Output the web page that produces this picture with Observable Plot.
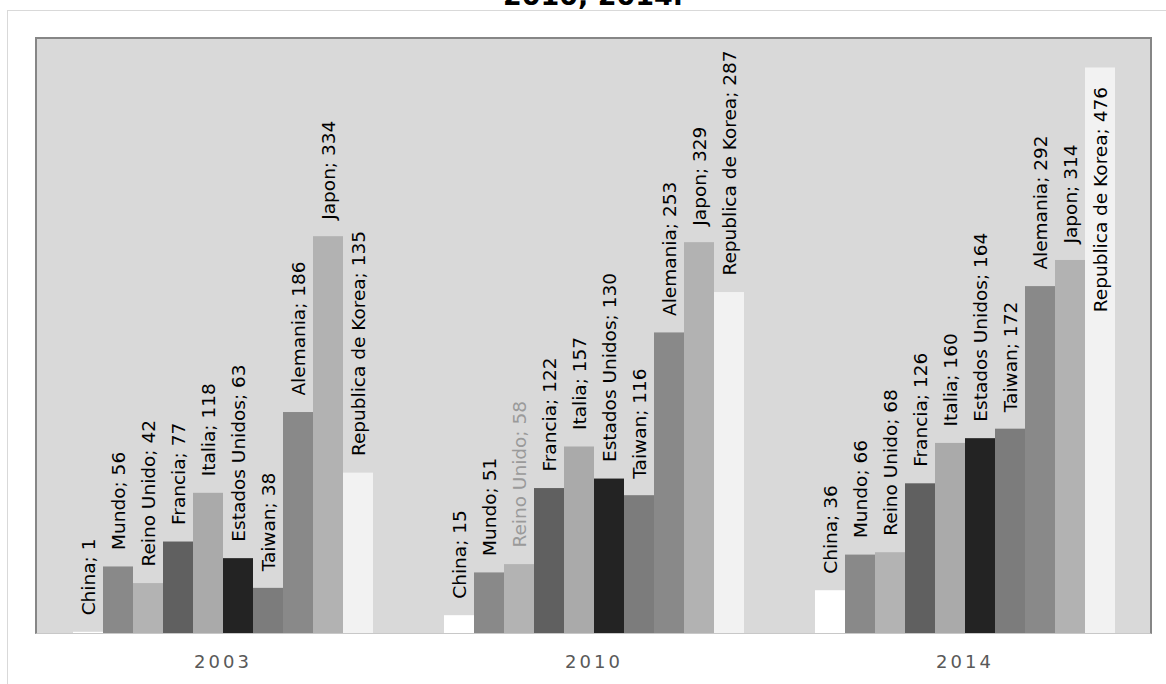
<!DOCTYPE html>
<html><head><meta charset="utf-8">
<script src="https://cdn.jsdelivr.net/npm/d3@7"></script>
<script src="https://cdn.jsdelivr.net/npm/@observablehq/plot@0.6"></script>
<style>
body{margin:0;overflow:hidden;background:#fff;font-family:"DejaVu Sans",sans-serif;}
#wrap{position:relative;width:1166px;height:684px;overflow:hidden;}
#outer{position:absolute;left:7px;top:10px;width:1200px;height:700px;border:1px solid #d9d9d9;}
#area{position:absolute;left:35px;top:37px;width:1113px;height:594px;background:#d9d9d9;border:2px solid #868686;border-bottom:1px solid #c8c8c8;}
#title{position:absolute;left:0;top:-18px;width:1186px;text-align:center;font:bold 27px/27px "DejaVu Sans",sans-serif;color:#000;}
#chart{position:absolute;left:0;top:0;}
#chart svg{background:transparent !important;}
#chart g[aria-label="fx-axis tick label"] text{letter-spacing:3px;}
</style>
</head><body>
<div id="wrap">
  <div id="outer"></div>
  <div id="title"></div>
  <div id="area"></div>
  <div id="chart"></div>
</div>
<script>
const years = ["2003", "2010", "2014"];
const countries = ["China", "Mundo", "Reino Unido", "Francia", "Italia", "Estados Unidos", "Taiwan", "Alemania", "Japon", "Republica de Korea"];
const values2003 = [1, 56, 42, 77, 118, 63, 38, 186, 334, 135];
const values2010 = [15, 51, 58, 122, 157, 130, 116, 253, 329, 287];
const values2014 = [36, 66, 68, 126, 160, 164, 172, 292, 314, 476];
const palette = ["#ffffff", "#898989", "#b3b3b3", "#606060", "#aaaaaa", "#232323", "#7c7c7c", "#898989", "#b2b2b2", "#f2f2f2"];
const titleText = "2010, 2014.";

// title: only the bottom of its last line is visible, clipped at the top edge
document.getElementById("title").textContent = titleText;

const series = [values2003, values2010, values2014];
const data = [];
years.forEach((y, i) => countries.forEach((c, j) => data.push({year: y, country: c, value: series[i][j]})));
const colorOf = Object.fromEntries(countries.map((c, j) => [c, palette[j]]));
const label = d => `${d.country}; ${d.value}`;
const labelFill = d => (d.year === "2010" && d.country === "Reino Unido") ? "#9a9a9a" : "#000000";
const inside = d => d.value > 450;

const chart = Plot.plot({
  width: 1166,
  height: 684,
  marginLeft: 37,
  marginRight: 16,
  marginTop: 39,
  marginBottom: 51,
  style: {background: "transparent", fontFamily: "DejaVu Sans, sans-serif"},
  fx: {domain: years, padding: 0, label: null},
  x: {domain: countries, paddingInner: 0, paddingOuter: 1, axis: null},
  y: {domain: [0, 500], axis: null},
  color: {type: "identity"},
  marks: [
    Plot.barY(data, {fx: "year", x: "country", y: "value", fill: d => colorOf[d.country], insetLeft: 0, insetRight: 0}),
    Plot.text(data.filter(d => !inside(d)), {fx: "year", x: "country", y: "value", text: label, rotate: -90, textAnchor: "start", dy: -17, dx: 1, fontSize: 18.5, fill: labelFill}),
    Plot.text(data.filter(inside), {fx: "year", x: "country", y: "value", text: label, rotate: -90, textAnchor: "end", dy: 19, dx: 1, fontSize: 18.5, fill: labelFill}),
    Plot.axisFx({anchor: "bottom", tickSize: 0, tickPadding: 22, fontSize: 18, fill: "#595959", label: null})
  ]
});
document.getElementById("chart").appendChild(chart);
</script>
</body></html>
